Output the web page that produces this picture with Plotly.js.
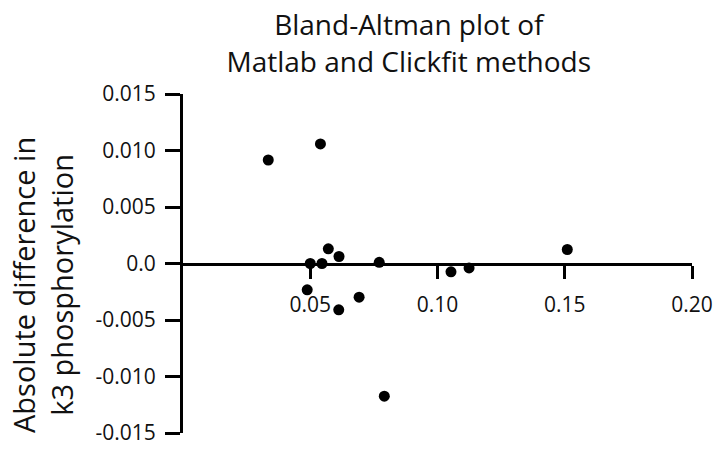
<!DOCTYPE html>
<html>
<head>
<meta charset="utf-8">
<script src="https://cdn.plot.ly/plotly-3.0.1.min.js"></script>
<style>html,body{margin:0;padding:0;background:#fff;}#chart{width:721px;height:453px;}</style>
</head>
<body>
<div id="chart"></div>
<script>
// Mean of the two methods (x) and absolute difference (y)
const meanValues = [0.0335, 0.0540, 0.0488, 0.0500, 0.0546, 0.0571, 0.0613, 0.0612, 0.0692, 0.0771, 0.0791, 0.1053, 0.1124, 0.1510];
const diffValues = [0.00916, 0.01058, -0.00233, 0.0, 0.0, 0.00130, 0.00062, -0.00410, -0.00298, 0.0001, -0.01174, -0.00074, -0.00039, 0.00124];
const xTickVals = [0.05, 0.10, 0.15, 0.20];
const xTickText = ["0.05", "0.10", "0.15", "0.20"];
const yTickVals = [0.015, 0.010, 0.005, 0.0, -0.005, -0.010, -0.015];
const yTickText = ["0.015", "0.010", "0.005", "0.0", "-0.005", "-0.010", "-0.015"];

const font = '"Open Sans", "Liberation Sans", sans-serif';

const trace = {
  x: meanValues, y: diffValues, type: 'scatter', mode: 'markers',
  marker: {color: '#000', size: 11}, cliponaxis: false, hoverinfo: 'x+y'
};

const layout = {
  width: 721, height: 453,
  margin: {l: 183, r: 29, t: 94, b: 20},
  paper_bgcolor: '#fff', plot_bgcolor: '#fff',
  showlegend: false,
  font: {family: font, color: '#111'},
  title: {
    text: 'Bland-Altman plot of<br>Matlab and Clickfit methods',
    font: {family: font, size: 28, color: '#111'},
    x: 0.4436, xref: 'paper', xanchor: 'center',
    y: 0.922, yref: 'container', yanchor: 'middle'
  },
  xaxis: {
    range: [0, 0.2], anchor: 'free', position: 0.5,
    tickvals: xTickVals, ticktext: xTickText,
    ticks: 'outside', ticklen: 13, tickwidth: 3, tickcolor: '#000',
    showline: true, linewidth: 3, linecolor: '#000',
    showgrid: false, zeroline: false,
    tickfont: {family: font, size: 21, color: '#111'},
    ticklabelstandoff: 8
  },
  yaxis: {
    range: [-0.015, 0.015],
    tickvals: yTickVals, ticktext: yTickText,
    ticks: 'outside', ticklen: 15, tickwidth: 3, tickcolor: '#000',
    showline: true, linewidth: 3, linecolor: '#000',
    showgrid: false, zeroline: false,
    tickfont: {family: font, size: 21, color: '#111'},
    ticklabelstandoff: 5
  },
  annotations: [{
    text: 'Absolute difference in<br>k3 phosphorylation',
    xref: 'paper', yref: 'paper', x: -0.275, y: 0.4366,
    xanchor: 'center', yanchor: 'middle', textangle: -90,
    showarrow: false, font: {family: font, size: 29, color: '#111'}
  }]
};

Plotly.newPlot('chart', [trace], layout, {displayModeBar: false, staticPlot: true});
</script>
</body>
</html>
